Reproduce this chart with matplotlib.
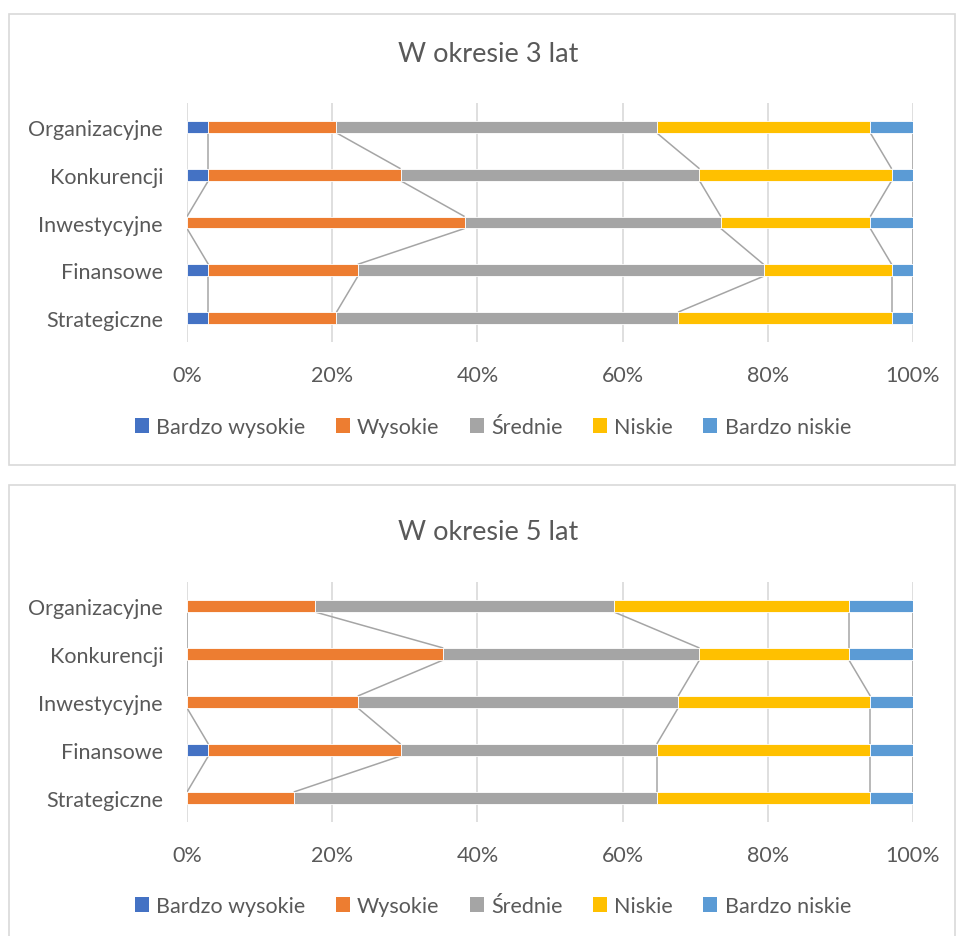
import matplotlib
matplotlib.use("Agg")
import matplotlib.pyplot as plt
from matplotlib.patches import Rectangle, Patch
import numpy as np

# categories bottom -> top (Excel order)
categories = ["Strategiczne", "Finansowe", "Inwestycyjne", "Konkurencji", "Organizacyjne"]
series_names = ["Bardzo wysokie", "Wysokie", "Średnie", "Niskie", "Bardzo niskie"]
colors = ["#4472C4", "#ED7D31", "#A5A5A5", "#FFC000", "#5B9BD5"]

# number of answers per category (Strategiczne ... Organizacyjne)
bardzo_wysokie_3 = [1, 1, 0, 1, 1]
wysokie_3 = [6, 7, 13, 9, 6]
srednie_3 = [16, 19, 12, 14, 15]
niskie_3 = [10, 6, 7, 9, 10]
bardzo_niskie_3 = [1, 1, 2, 1, 2]

bardzo_wysokie_5 = [0, 1, 0, 0, 0]
wysokie_5 = [5, 9, 8, 12, 6]
srednie_5 = [17, 12, 15, 12, 14]
niskie_5 = [10, 10, 9, 7, 11]
bardzo_niskie_5 = [2, 2, 2, 3, 3]

ticks = [0, 20, 40, 60, 80, 100]
tick_labels = ["0%", "20%", "40%", "60%", "80%", "100%"]

W, H = 957, 937
txt = "#595959"
plt.rcParams['font.family'] = ['Lato', 'DejaVu Sans']

fig = plt.figure(figsize=(W / 100, H / 100), dpi=100)


def px(x0, y0, x1, y1):
    # pixel box (top-left origin) -> figure fraction rect
    return [x0 / W, 1 - y1 / H, (x1 - x0) / W, (y1 - y0) / H]


def panel(title, data, box_top, axes_top, axes_bottom, tick_y, legend_y, title_y, box_bottom):
    fig.patches.append(Rectangle((9 / W, 1 - box_bottom / H), (955 - 9) / W, (box_bottom - box_top) / H,
                                 transform=fig.transFigure, fill=False, edgecolor="#d9d9d9", linewidth=1.2))
    fig.text(488 / W, 1 - title_y / H, title, ha="center", va="center", fontsize=19.5, color=txt)

    ax = fig.add_axes(px(187, axes_top, 913, axes_bottom))
    vals = np.array(data, dtype=float)
    pct = vals / vals.sum(axis=0) * 100
    y = np.arange(len(categories))
    h = 0.25
    left = np.zeros(len(categories))
    cums = []
    for i, name in enumerate(series_names):
        ax.barh(y, pct[i], left=left, height=h, color=colors[i], edgecolor="white", linewidth=0.6,
                label=name, zorder=3)
        left = left + pct[i]
        cums.append(left.copy())

    # series lines
    for c in cums:
        for j in range(len(categories) - 1):
            ax.plot([c[j], c[j + 1]], [y[j] + h / 2, y[j + 1] - h / 2], color="#A5A5A5", linewidth=1.1,
                    zorder=2, solid_capstyle="butt")

    ax.set_xlim(0, 100)
    ax.set_ylim(-0.5, len(categories) - 0.5)
    ax.set_xticks(ticks)
    ax.set_xticklabels(tick_labels)
    ax.set_yticks(y)
    ax.set_yticklabels(categories)
    ax.grid(axis="x", color="#d9d9d9", linewidth=1.2, zorder=0)
    for s in ax.spines.values():
        s.set_visible(False)
    ax.tick_params(axis="both", length=0, labelsize=15.5, labelcolor=txt)
    ax.tick_params(axis="x", pad=(tick_y - axes_bottom - 10) / 1.389)
    ax.tick_params(axis="y", pad=24 / 1.389)

    handles = [Patch(facecolor=c, edgecolor="none") for c in colors]
    fig.legend(handles, series_names, loc="center", bbox_to_anchor=(493 / W, 1 - legend_y / H), ncol=5,
               frameon=False, fontsize=15.5, labelcolor=txt, handlelength=0.65, handleheight=0.65,
               handletextpad=0.35, columnspacing=1.4)


panel("W okresie 3 lat", [bardzo_wysokie_3, wysokie_3, srednie_3, niskie_3, bardzo_niskie_3],
      15, 104, 343, 376, 428, 55, 466)
panel("W okresie 5 lat", [bardzo_wysokie_5, wysokie_5, srednie_5, niskie_5, bardzo_niskie_5],
      486, 583, 823, 856, 907, 533, 950)

fig.savefig("out.png", dpi=100)
